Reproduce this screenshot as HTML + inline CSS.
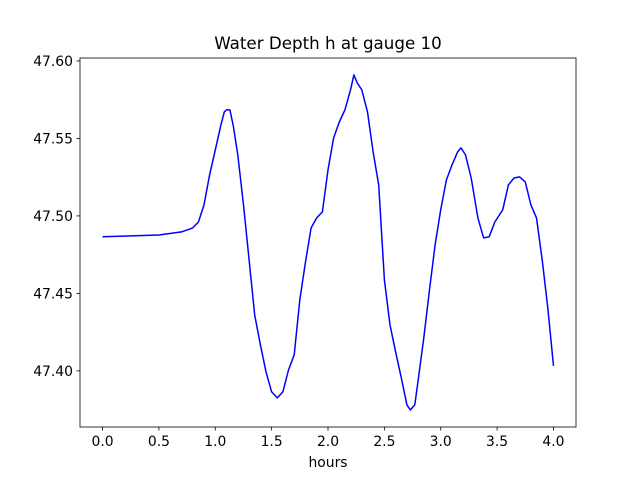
<!DOCTYPE html>
<html><head><meta charset="utf-8"><style>
body{margin:0;background:#fff;}
svg{display:block;font-family:"DejaVu Sans","Liberation Sans",sans-serif;}
</style></head><body>
<svg id="chart" width="640" height="480"></svg>
<script>
const hours=[0,0.5,0.7,0.8,0.85,0.9,0.95,1.0,1.05,1.08,1.1,1.13,1.16,1.2,1.25,1.3,1.35,1.4,1.45,1.5,1.55,1.6,1.65,1.7,1.75,1.8,1.85,1.9,1.95,2.0,2.05,2.1,2.15,2.2,2.23,2.26,2.3,2.35,2.4,2.45,2.5,2.55,2.6,2.65,2.7,2.73,2.77,2.8,2.85,2.9,2.95,3.0,3.05,3.1,3.15,3.18,3.22,3.27,3.33,3.38,3.43,3.48,3.55,3.6,3.65,3.7,3.75,3.8,3.85,3.9,3.95,4.0];
const depth=[47.4865,47.4877,47.4897,47.4923,47.4961,47.5071,47.5265,47.5426,47.5587,47.5671,47.5684,47.5684,47.5581,47.5394,47.5071,47.4716,47.4361,47.4168,47.3994,47.3865,47.3826,47.3865,47.4006,47.4103,47.4458,47.4703,47.4923,47.4987,47.5026,47.5297,47.5503,47.5606,47.5684,47.5813,47.5910,47.5858,47.5813,47.5671,47.5413,47.5200,47.4587,47.4297,47.4123,47.3955,47.3781,47.3748,47.3781,47.3942,47.4213,47.4523,47.4813,47.5039,47.5232,47.5329,47.5413,47.5439,47.5394,47.5245,47.4987,47.4858,47.4865,47.4961,47.5039,47.5200,47.5245,47.5252,47.5219,47.5071,47.4987,47.4716,47.4406,47.4032];
const xTicks=[0,0.5,1,1.5,2,2.5,3,3.5,4];
const xTickLabels=["0.0","0.5","1.0","1.5","2.0","2.5","3.0","3.5","4.0"];
const yTicks=[47.40,47.45,47.50,47.55,47.60];
const yTickLabels=["47.40","47.45","47.50","47.55","47.60"];
const L=80,R=576,T=58,B=427;
const X=v=>L+(v+0.2)/4.4*(R-L);
const Y=v=>B-(v-47.3638)/(47.6019-47.3638)*(B-T);
const svg=document.getElementById('chart');
const NS='http://www.w3.org/2000/svg';
function mk(t,a,txt){const e=document.createElementNS(NS,t);for(const k in a)e.setAttribute(k,a[k]);if(txt!==undefined)e.textContent=txt;svg.appendChild(e);return e;}
let d=hours.map((h,i)=>(i?'L':'M')+X(h).toFixed(1)+','+Y(depth[i]).toFixed(1)).join('');
const line=mk('path',{d:d,fill:'none',stroke:'#0000ff','stroke-width':1.5,'stroke-linejoin':'round'});


const frame=mk('rect',{x:L,y:T,width:R-L,height:B-T,fill:'none',stroke:'#000','stroke-width':0.8});


xTicks.forEach((t,i)=>{
  const tk=mk('line',{x1:X(t),x2:X(t),y1:B,y2:B+3.5,stroke:'#000','stroke-width':0.8});
  
  
  const lb=mk('text',{x:X(t),y:B+19,'text-anchor':'middle','font-size':13.9},xTickLabels[i]);
  
  
});
yTicks.forEach((t,i)=>{
  const tk=mk('line',{x1:L-3.5,x2:L,y1:Y(t),y2:Y(t),stroke:'#000','stroke-width':0.8});
  
  
  const lb=mk('text',{x:L-7,y:Y(t)+5,'text-anchor':'end','font-size':13.9},yTickLabels[i]);
  
  
});
const xt=mk('text',{x:(L+R)/2,y:467,'text-anchor':'middle','font-size':13.9},'hours');


const ti=mk('text',{x:(L+R)/2,y:49,'text-anchor':'middle','font-size':16.7},'Water Depth h at gauge 10');


</script>
</body></html>
